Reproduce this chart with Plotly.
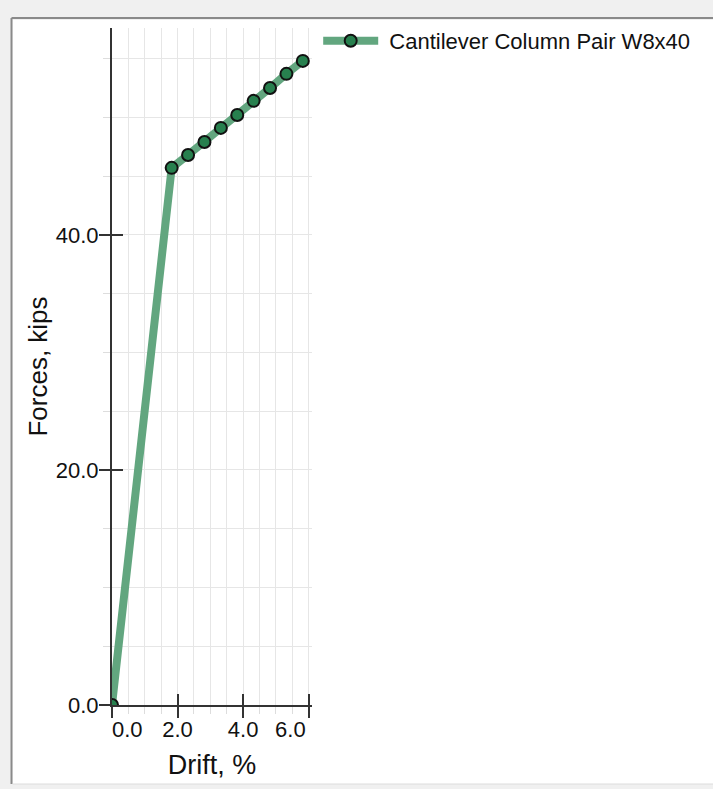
import plotly.graph_objects as go

# Data
drift_pct = [0.0, 1.82, 2.32, 2.82, 3.32, 3.82, 4.32, 4.82, 5.32, 5.82]
force_kips = [0.0, 45.7, 46.8, 47.9, 49.1, 50.2, 51.4, 52.5, 53.7, 54.8]
series_name = "Cantilever Column Pair W8x40"

x_tickvals = [0, 2, 4, 6]
x_ticktext = ["0.0", "2.0", "4.0", "6.0"]
y_tickvals = [0, 20, 40]
y_ticktext = ["0.0", "20.0", "40.0"]

X_RANGE = [0, 6.1]
Y_RANGE = [0, 57.6]

FONT = "Liberation Sans, Arial, sans-serif"
GRID = "#e6e6e6"
NB = "\u00a0"

# edge labels are nudged inward, as the reference chart does
x_ticktext_shown = [NB * 5 + x_ticktext[0], x_ticktext[1], x_ticktext[2],
                    x_ticktext[3] + NB * 6]

fig = go.Figure()

fig.add_trace(go.Scatter(
    x=drift_pct, y=force_kips, name=NB + series_name,
    mode="lines+markers", cliponaxis=True,
    line=dict(color="#62a67f", width=8),
    marker=dict(size=12, color="#27804e", line=dict(color="#111111", width=2)),
))

# invisible trace to host the overlay axes (inside half of the crossing ticks)
fig.add_trace(go.Scatter(
    x=drift_pct, y=force_kips, xaxis="x2", yaxis="y2",
    mode="lines", opacity=0, showlegend=False, hoverinfo="skip",
))

fig.update_layout(
    width=713, height=789,
    margin=dict(l=112, r=401, t=28, b=84, pad=0),
    paper_bgcolor="#f0f0f0",
    plot_bgcolor="#fafafa",
    font=dict(family=FONT, size=22, color="#111111"),
    showlegend=True,
    legend=dict(
        x=1.031, y=1.0118, xanchor="left", yanchor="top",
        bgcolor="rgba(0,0,0,0)", borderwidth=0,
        font=dict(family=FONT, size=22, color="#111111"),
        itemwidth=55,
    ),
    xaxis=dict(
        range=X_RANGE, tickvals=x_tickvals, ticktext=x_ticktext_shown,
        ticks="outside", ticklen=11, tickwidth=2, tickcolor="#333333",
        showline=True, linecolor="#333333", linewidth=2,
        showgrid=True, gridcolor=GRID, gridwidth=1, zeroline=False,
        tickfont=dict(size=22), ticklabelstandoff=-7,
        minor=dict(dtick=0.5, tick0=0, showgrid=True, gridcolor=GRID,
                   ticks="outside", ticklen=7, tickcolor="#dddddd", tickwidth=1),
        title=dict(text="Drift, %", font=dict(size=27), standoff=14),
        fixedrange=True,
    ),
    yaxis=dict(
        range=Y_RANGE, tickvals=y_tickvals, ticktext=y_ticktext,
        ticks="outside", ticklen=11, tickwidth=2, tickcolor="#333333",
        showline=True, linecolor="#333333", linewidth=2,
        showgrid=True, gridcolor=GRID, gridwidth=1, zeroline=False,
        tickfont=dict(size=22), ticklabelstandoff=-4,
        minor=dict(dtick=5, tick0=0, showgrid=True, gridcolor=GRID,
                   ticks="outside", ticklen=7, tickcolor="#dddddd", tickwidth=1),
        title=dict(text="Forces, kips", font=dict(size=26), standoff=1),
        fixedrange=True,
    ),
    xaxis2=dict(
        range=X_RANGE, overlaying="x", anchor="y2", side="bottom",
        tickvals=x_tickvals, ticks="inside", ticklen=11, tickwidth=2,
        tickcolor="#333333", showticklabels=False, showgrid=False,
        showline=False, zeroline=False, fixedrange=True,
    ),
    yaxis2=dict(
        range=Y_RANGE, overlaying="y", anchor="x2", side="left",
        tickvals=y_tickvals, ticks="inside", ticklen=11, tickwidth=2,
        tickcolor="#333333", showticklabels=False, showgrid=False,
        showline=False, zeroline=False, fixedrange=True,
    ),
    shapes=[
        # white panel of the window
        dict(type="rect", xref="paper", yref="paper", layer="below",
             x0=-0.497, x1=3.2, y0=-0.1167, y1=1.0118,
             fillcolor="white", line=dict(width=0)),
        # left panel border
        dict(type="line", xref="paper", yref="paper", layer="below",
             x0=-0.5025, x1=-0.5025, y0=-0.1167, y1=1.0148,
             line=dict(color="#8a8a8a", width=2)),
        # top panel border
        dict(type="line", xref="paper", yref="paper", layer="below",
             x0=-0.5025, x1=3.2, y0=1.0148, y1=1.0148,
             line=dict(color="#8a8a8a", width=2)),
        # bottom light border
        dict(type="line", xref="paper", yref="paper", layer="below",
             x0=-0.497, x1=3.2, y0=-0.1167, y1=-0.1167,
             line=dict(color="#dcdcdc", width=1)),
    ],
)

fig.write_html(
    "out.html",
    config={"displayModeBar": False},
    post_script="document.body.style.margin='0';document.body.style.padding='0';",
)
